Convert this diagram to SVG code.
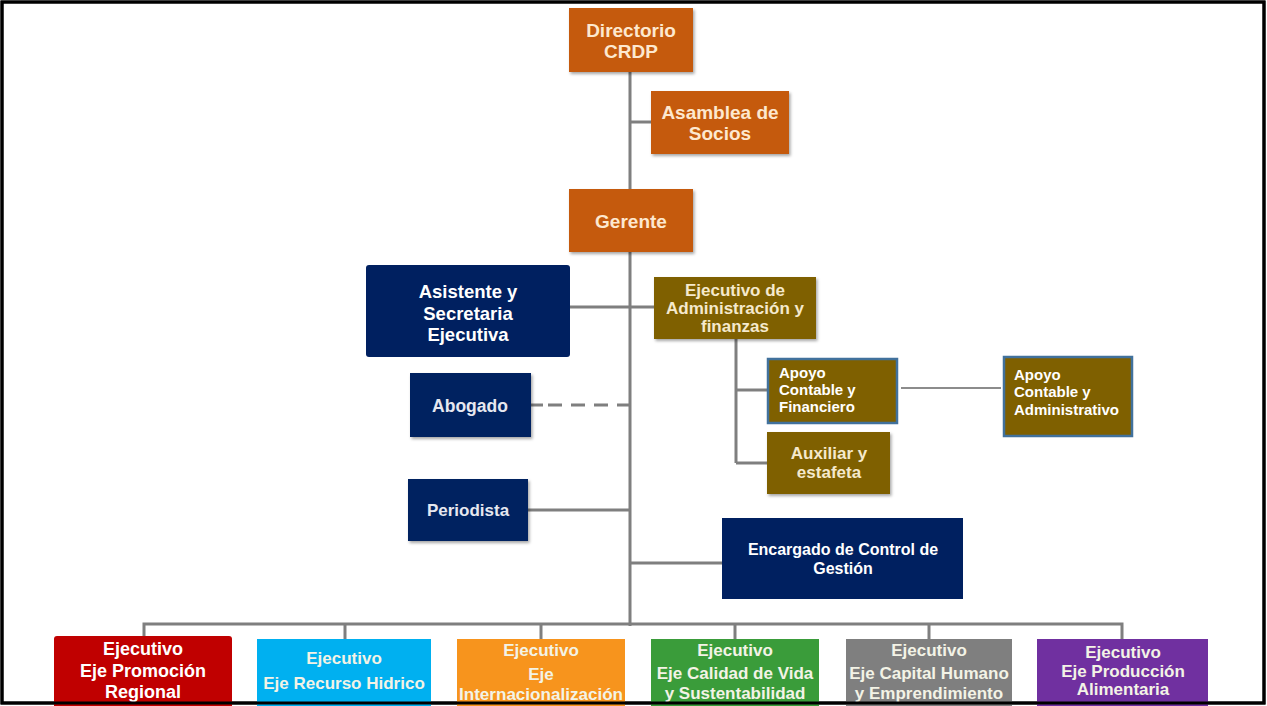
<svg xmlns="http://www.w3.org/2000/svg" width="1267" height="706" viewBox="0 0 1267 706">
<defs>
<filter id="sh" x="-10%" y="-10%" width="125%" height="130%">
<feDropShadow dx="1.5" dy="2" stdDeviation="1.5" flood-color="#000" flood-opacity="0.35"/>
</filter>
</defs>
<style>
.ln{stroke:#7f7f7f;stroke-width:3;fill:none}
.thin{stroke:#8c8c8c;stroke-width:2;fill:none}
.dash{stroke:#7f7f7f;stroke-width:3;fill:none;stroke-dasharray:14 9}
.t{font-family:"Liberation Sans",Arial,sans-serif;font-weight:bold;text-anchor:middle}
.l{text-anchor:start}
.cg{fill:#fde8cf;font-size:19px}
.ol{fill:#f5e9cc;font-size:17px}
.wh{fill:#ffffff}
.bt{fill:#f3f3e6;font-size:17px}
.org{fill:#c55a11}
.olv{fill:#7f6000}
.nav{fill:#002060}
</style>
<rect x="2" y="2" width="1262" height="701" fill="#fff" stroke="#000" stroke-width="3"/>
<g id="connectors">
<line class="ln" x1="630" y1="72" x2="630" y2="626"/>
<line class="ln" x1="630" y1="122" x2="651" y2="122"/>
<line class="ln" x1="570" y1="307" x2="654" y2="307"/>
<line class="ln" x1="736" y1="339" x2="736" y2="463"/>
<line class="ln" x1="736" y1="390" x2="767" y2="390"/>
<line class="ln" x1="736" y1="463" x2="767" y2="463"/>
<line class="thin" x1="901" y1="388" x2="1001" y2="388"/>
<line class="ln" x1="531" y1="405" x2="543" y2="405"/>
<line class="dash" x1="548" y1="405" x2="630" y2="405"/>
<line class="ln" x1="528" y1="510" x2="630" y2="510"/>
<line class="ln" x1="630" y1="563" x2="722" y2="563"/>
<polyline class="ln" points="144,637 144,624 1122,624 1122,639"/>
<line class="ln" x1="345" y1="624" x2="345" y2="639"/>
<line class="ln" x1="541" y1="624" x2="541" y2="639"/>
<line class="ln" x1="735" y1="624" x2="735" y2="639"/>
<line class="ln" x1="929" y1="624" x2="929" y2="639"/>
</g>
<g id="directorio">
<rect class="org" x="569" y="8" width="124" height="64" filter="url(#sh)"/>
<text class="t cg" x="631" y="37">Directorio</text>
<text class="t cg" x="631" y="58">CRDP</text>
</g>
<g id="asamblea">
<rect class="org" x="651" y="91" width="138" height="63" filter="url(#sh)"/>
<text class="t cg" x="720" y="119">Asamblea de</text>
<text class="t cg" x="720" y="140">Socios</text>
</g>
<g id="gerente">
<rect class="org" x="569" y="189" width="124" height="63" filter="url(#sh)"/>
<text class="t cg" x="631" y="228">Gerente</text>
</g>
<g id="asistente">
<rect class="nav" x="366" y="265" width="204" height="92" rx="3"/>
<text class="t wh" x="468" y="298" font-size="18.5">Asistente y</text>
<text class="t wh" x="468" y="320" font-size="18.5">Secretaria</text>
<text class="t wh" x="468" y="341" font-size="18.5">Ejecutiva</text>
</g>
<g id="ejecutivo-admin">
<rect class="olv" x="654" y="277" width="162" height="62" filter="url(#sh)"/>
<text class="t ol" x="735" y="296">Ejecutivo de</text>
<text class="t ol" x="735" y="314">Administración y</text>
<text class="t ol" x="735" y="332">finanzas</text>
</g>
<g id="apoyo-financiero">
<rect class="olv" x="768" y="359" width="129" height="64" stroke="#41719c" stroke-width="2.5"/>
<text class="t l wh" x="779" y="378" font-size="15">Apoyo</text>
<text class="t l wh" x="779" y="395" font-size="15">Contable y</text>
<text class="t l wh" x="779" y="412" font-size="15">Financiero</text>
</g>
<g id="apoyo-administrativo">
<rect class="olv" x="1004" y="357" width="128" height="79" stroke="#41719c" stroke-width="2.5"/>
<text class="t l wh" x="1014" y="380" font-size="15">Apoyo</text>
<text class="t l wh" x="1014" y="397" font-size="15">Contable y</text>
<text class="t l wh" x="1014" y="415" font-size="15">Administrativo</text>
</g>
<g id="auxiliar">
<rect class="olv" x="767" y="432" width="123" height="62" filter="url(#sh)"/>
<text class="t ol" x="829" y="459">Auxiliar y</text>
<text class="t ol" x="829" y="478">estafeta</text>
</g>
<g id="abogado">
<rect class="nav" x="410" y="373" width="121" height="64" filter="url(#sh)"/>
<text class="t" x="470" y="412" font-size="17.5" fill="#e6e8f0">Abogado</text>
</g>
<g id="periodista">
<rect class="nav" x="408" y="479" width="120" height="62" filter="url(#sh)"/>
<text class="t" x="468" y="516" font-size="17" fill="#e6e8f0">Periodista</text>
</g>
<g id="encargado">
<rect class="nav" x="722" y="518" width="241" height="81"/>
<text class="t wh" x="843" y="555" font-size="16">Encargado de Control de</text>
<text class="t wh" x="843" y="574" font-size="16">Gestión</text>
</g>
<g id="eje-promocion">
<rect x="54" y="636" width="178" height="75" rx="3" fill="#c00000"/>
<text class="t wh" x="143" y="655" font-size="18">Ejecutivo</text>
<text class="t wh" x="143" y="677" font-size="18">Eje Promoción</text>
<text class="t wh" x="143" y="698" font-size="18">Regional</text>
</g>
<g id="eje-hidrico">
<rect x="257" y="639" width="174" height="72" fill="#00b0f0"/>
<text class="t bt" x="344" y="664">Ejecutivo</text>
<text class="t bt" x="344" y="689">Eje Recurso Hidrico</text>
</g>
<g id="eje-internacional">
<rect x="457" y="639" width="168" height="72" fill="#f7941d"/>
<text class="t bt" x="541" y="656">Ejecutivo</text>
<text class="t bt" x="541" y="680">Eje</text>
<text class="t bt" x="541" y="700" textLength="164" lengthAdjust="spacingAndGlyphs">Internacionalización</text>
</g>
<g id="eje-calidad">
<rect x="651" y="639" width="168" height="72" fill="#3a9c3a"/>
<text class="t bt" x="735" y="656">Ejecutivo</text>
<text class="t bt" x="735" y="679">Eje Calidad de Vida</text>
<text class="t bt" x="735" y="699">y Sustentabilidad</text>
</g>
<g id="eje-capital">
<rect x="846" y="639" width="166" height="72" fill="#7f7f7f"/>
<text class="t bt" x="929" y="656">Ejecutivo</text>
<text class="t bt" x="929" y="679">Eje Capital Humano</text>
<text class="t bt" x="929" y="699">y Emprendimiento</text>
</g>
<g id="eje-produccion">
<rect x="1037" y="639" width="171" height="72" fill="#7030a0"/>
<text class="t bt" x="1123" y="658">Ejecutivo</text>
<text class="t bt" x="1123" y="677">Eje Producción</text>
<text class="t bt" x="1123" y="695">Alimentaria</text>
</g>
<rect x="2" y="2" width="1262" height="701" fill="none" stroke="#000" stroke-width="3"/>
</svg>
